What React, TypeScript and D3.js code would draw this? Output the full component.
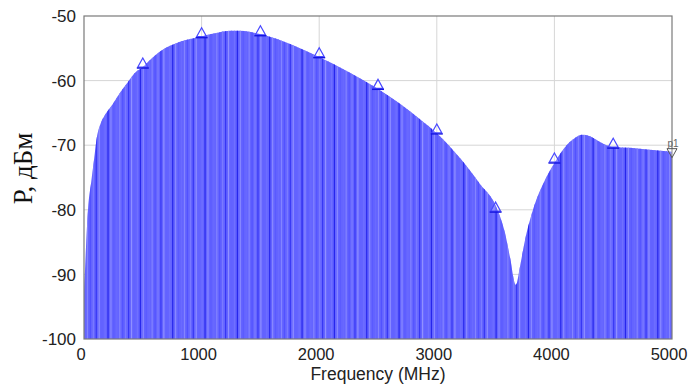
import React, { useEffect, useRef } from "react";
import * as d3 from "d3";

// spectrum trace (MHz, dBm)
const freqs = [0, 17, 34, 60, 85, 110, 136, 179, 238, 306, 374, 434, 500, 561, 646, 816, 986, 1156, 1241, 1327, 1497, 1692, 1981, 2262, 2491, 2687, 2857, 3002, 3197, 3367, 3512, 3580, 3622, 3673, 3707, 3750, 3818, 3920, 4005, 4090, 4175, 4235, 4303, 4388, 4498, 4643, 4813, 5000];
const power = [-93.5, -85.8, -80, -75.9, -72.3, -68.7, -66.9, -65.3, -63.8, -61.9, -60.2, -58.8, -57.9, -56.8, -55.5, -54, -53.2, -52.5, -52.3, -52.3, -52.8, -53.9, -56.2, -58.8, -61.2, -63.6, -66.0, -68.2, -72.0, -76.0, -79.8, -83.6, -87.3, -91.6, -88.8, -84.7, -80, -75.4, -72.6, -70.3, -68.9, -68.4, -68.6, -69.5, -70.3, -70.4, -70.7, -71];

// triangle markers every 500 MHz
const markerFreqs = [500, 1000, 1500, 2000, 2500, 3000, 3500, 4000, 4500];
const markerValues = [-57.9, -53.2, -52.9, -56.3, -61.2, -68.1, -80.2, -72.6, -70.3];
const p1Freq = 5000;
const p1Value = -71;

const xTicks = [0, 1000, 2000, 3000, 4000, 5000];
const yTicks = [-100, -90, -80, -70, -60, -50];

const stripeShades = ["#6a6aff", "#8484ff", "#5252ff", "#7c7cff", "#3636f4", "#9090ff", "#6262ff", "#7070ff", "#2626ec", "#8a8aff", "#5a5aff"];

const W = 689;
const H = 385;
const margin = { top: 16, right: 17, bottom: 46, left: 84 };

export default function App() {
  const svgRef = useRef<SVGSVGElement>(null);

  useEffect(() => {
    const svg = d3.select(svgRef.current);
    svg.selectAll("*").remove();

    const x = d3.scaleLinear().domain([0, 5000]).range([margin.left, W - margin.right]);
    const y = d3.scaleLinear().domain([-100, -50]).range([H - margin.bottom, margin.top]);
    const data = freqs.map((f, i) => [f, power[i]] as [number, number]);

    // grid
    svg.append("g")
      .selectAll("line")
      .data(xTicks.slice(1, -1))
      .join("line")
      .attr("x1", (d) => x(d)).attr("x2", (d) => x(d))
      .attr("y1", y(-50)).attr("y2", y(-100))
      .attr("stroke", "#d6d6d6").attr("stroke-width", 1);
    svg.append("g")
      .selectAll("line")
      .data(yTicks.slice(1, -1))
      .join("line")
      .attr("y1", (d) => y(d)).attr("y2", (d) => y(d))
      .attr("x1", x(0)).attr("x2", x(5000))
      .attr("stroke", "#d6d6d6").attr("stroke-width", 1);

    // filled trace
    const area = d3.area<[number, number]>()
      .x((d) => x(d[0]))
      .y0(y(-100))
      .y1((d) => y(d[1]))
      .curve(d3.curveMonotoneX);

    svg.append("clipPath").attr("id", "trace-clip")
      .append("path").attr("d", area(data));

    svg.append("path").attr("d", area(data)).attr("fill", "#6464ff");

    // vertical hatching of the trace fill
    const stripes = d3.range(0, 5001, 25);
    svg.append("g")
      .attr("clip-path", "url(#trace-clip)")
      .selectAll("line")
      .data(stripes)
      .join("line")
      .attr("x1", (d) => x(d) + 0.5).attr("x2", (d) => x(d) + 0.5)
      .attr("y1", y(-50)).attr("y2", y(-100))
      .attr("stroke", (d, i) => stripeShades[i % stripeShades.length])
      .attr("stroke-width", 1.2);

    // frame
    svg.append("rect")
      .attr("x", x(0)).attr("y", y(-50))
      .attr("width", x(5000) - x(0)).attr("height", y(-100) - y(-50))
      .attr("fill", "none").attr("stroke", "#7a7a7a").attr("stroke-width", 1.2);

    // markers
    const mk = svg.append("g");
    markerFreqs.forEach((f, i) => {
      const cx = x(f);
      const cy = y(markerValues[i]);
      mk.append("path")
        .attr("d", `M${cx - 5},${cy} L${cx},${cy - 9} L${cx + 5},${cy} Z`)
        .attr("fill", "rgba(255,255,255,0.25)")
        .attr("stroke", "#4a4aff").attr("stroke-width", 1.2);
      mk.append("line")
        .attr("x1", cx - 6).attr("x2", cx + 6)
        .attr("y1", cy + 1).attr("y2", cy + 1)
        .attr("stroke", "#1414e0").attr("stroke-width", 1.4);
    });
    const px = x(p1Freq);
    const py = y(p1Value);
    mk.append("path")
      .attr("d", `M${px - 5},${py - 3} L${px + 5},${py - 3} L${px},${py + 6} Z`)
      .attr("fill", "rgba(255,255,255,0.25)")
      .attr("stroke", "#555").attr("stroke-width", 1);
    mk.append("text")
      .attr("x", px + 1).attr("y", py - 5)
      .attr("text-anchor", "middle")
      .attr("font-family", "Liberation Sans, Arial, sans-serif")
      .attr("font-size", 10).attr("fill", "#666")
      .text("p1");

    // tick labels
    const font = "Liberation Sans, Arial, sans-serif";
    svg.append("g")
      .selectAll("text")
      .data(yTicks)
      .join("text")
      .attr("x", margin.left - 8)
      .attr("y", (d) => y(d))
      .attr("dy", "0.36em")
      .attr("text-anchor", "end")
      .attr("font-family", font).attr("font-size", 17).attr("fill", "#222")
      .text((d) => d);
    svg.append("g")
      .selectAll("text")
      .data(xTicks)
      .join("text")
      .attr("x", (d) => x(d) - 3)
      .attr("y", H - margin.bottom + 21)
      .attr("text-anchor", "middle")
      .attr("font-family", font).attr("font-size", 16.5).attr("fill", "#222")
      .text((d) => d);

    // axis titles
    svg.append("text")
      .attr("x", (x(0) + x(5000)) / 2)
      .attr("y", H - 5)
      .attr("text-anchor", "middle")
      .attr("font-family", font).attr("font-size", 17.5).attr("fill", "#222")
      .text("Frequency (MHz)");
    svg.append("text")
      .attr("transform", `translate(32, ${(y(-50) + y(-100)) / 2 - 9}) rotate(-90)`)
      .attr("text-anchor", "middle")
      .attr("font-family", "Liberation Serif, Times New Roman, serif")
      .attr("font-size", 27).attr("fill", "#111")
      .text("Р, дБм");
  }, []);

  return (
    <svg ref={svgRef} width={W} height={H}
      style={{ position: "absolute", left: 0, top: 0, background: "#fff" }} />
  );
}
